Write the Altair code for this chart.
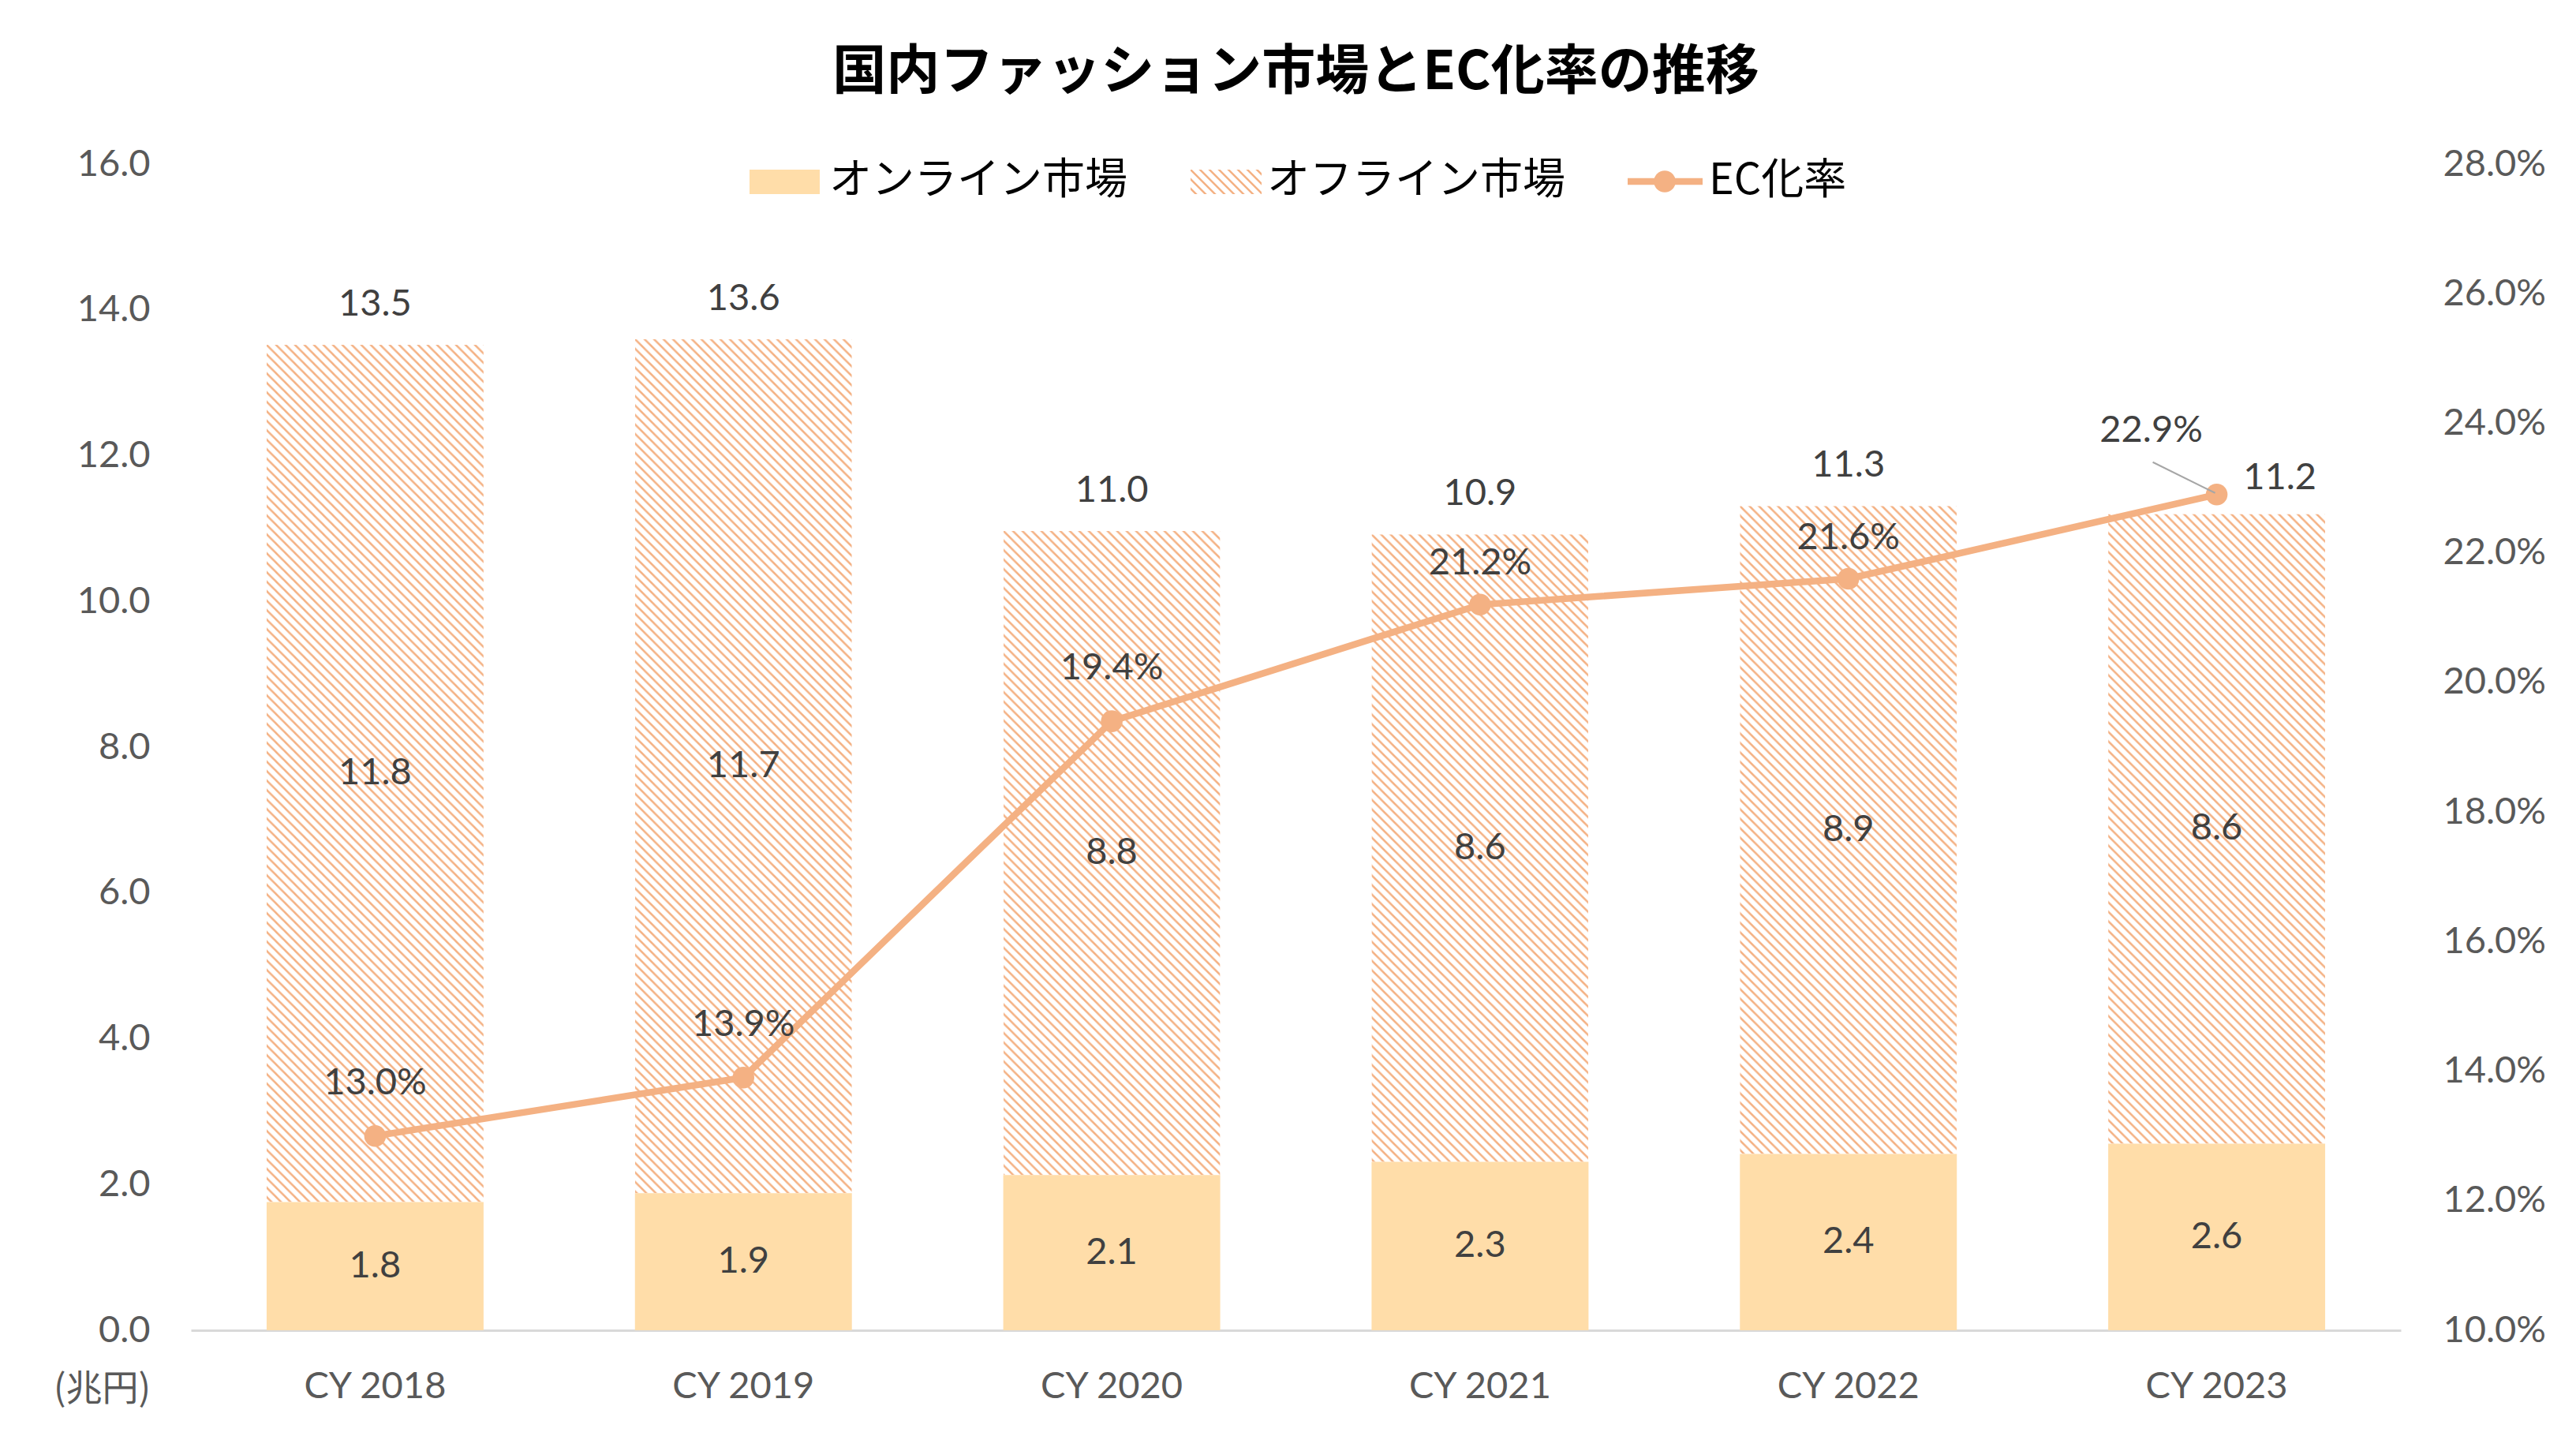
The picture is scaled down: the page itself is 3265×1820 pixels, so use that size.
import base64
import altair as alt
import pandas as pd

# ---------------- data ----------------
years = ["CY 2018", "CY 2019", "CY 2020", "CY 2021", "CY 2022", "CY 2023"]
online = [1.76, 1.88, 2.13, 2.31, 2.42, 2.56]        # オンライン市場 (兆円)
offline = [11.76, 11.72, 8.84, 8.61, 8.89, 8.64]     # オフライン市場 (兆円)
ec_rate = [13.0, 13.9, 19.4, 21.2, 21.6, 22.9]       # EC化率 (%)
left_ticks = [0, 2, 4, 6, 8, 10, 12, 14, 16]
right_ticks = [10, 12, 14, 16, 18, 20, 22, 24, 26, 28]
legend_labels = ["オンライン市場", "オフライン市場", "EC化率"]
title_text = "国内ファッション市場とEC化率の推移"
unit_label = "(兆円)"

df = pd.DataFrame({"year": years, "online": online, "offline": offline, "ec": ec_rate})

# ---------------- styles ----------------
W, H = 2801, 1478
FONT = "Lato, 'Noto Sans CJK JP', sans-serif"
JFONT = "'Noto Sans CJK JP', sans-serif"
ONLINE_C = "#FFDDA9"
ORANGE = "#F4B183"
AXIS_C = "#595959"
LABEL_C = "#404040"
FS = 47

hatch_svg = (
    "<svg xmlns='http://www.w3.org/2000/svg' width='100%' height='100%'>"
    "<defs><pattern id='h' width='12' height='12' patternUnits='userSpaceOnUse'>"
    "<path d='M-6,6 L6,18 M0,0 L12,12 M6,-6 L18,6' stroke='" + ORANGE + "' stroke-width='2.5'/>"
    "</pattern></defs><rect width='100%' height='100%' fill='url(#h)'/></svg>"
)
HATCH_URL = "data:image/svg+xml;base64," + base64.b64encode(hatch_svg.encode()).decode()

X = alt.X(
    "year:N",
    sort=years,
    scale=alt.Scale(paddingInner=0.411, paddingOuter=0.2055),
    axis=alt.Axis(
        title=None, labelAngle=0, labelFont=FONT, labelFontSize=FS, labelColor=AXIS_C,
        labelPadding=71, labelBaseline="middle", labelLimit=0, ticks=False, tickSize=0,
        domainColor="#D9D9D9", domainWidth=3, grid=False,
    ),
)

sc_left = alt.Scale(domain=[0, 16], nice=False, zero=True)
sc_right = alt.Scale(domain=[10, 28], nice=False, zero=False)

ax_left = alt.Axis(
    values=left_ticks, format=".1f", orient="left", grid=False, domain=False,
    ticks=False, tickSize=0, labelFont=FONT, labelFontSize=FS, labelColor=AXIS_C,
    labelPadding=52, title=unit_label, titleAngle=0, titleX=-113, titleY=1552,
    titleAlign="center", titleBaseline="middle", titleFont=JFONT, titleFontSize=46,
    titleFontWeight="normal", titleColor=AXIS_C,
)
ax_right = alt.Axis(
    values=right_ticks, orient="right", grid=False, domain=False, ticks=False,
    tickSize=0, labelFont=FONT, labelFontSize=FS, labelColor=AXIS_C, labelPadding=53,
    labelExpr="format(datum.value, '.1f') + '%'", title=None,
)

base = alt.Chart(df).transform_calculate(
    total="datum.online + datum.offline",
    on_mid="datum.online / 2",
    off_mid="datum.online + datum.offline / 2",
    on_lbl="format(datum.online, '.1f')",
    off_lbl="format(datum.offline, '.1f')",
    tot_lbl="format(datum.online + datum.offline, '.1f')",
    ec_lbl="format(datum.ec, '.1f') + '%'",
)

def YL(field, axis=None):
    return alt.Y(field, type="quantitative", scale=sc_left, axis=axis)

def YR(field, axis=None):
    return alt.Y(field, type="quantitative", scale=sc_right, axis=axis)

bars_online = base.mark_bar(color=ONLINE_C).encode(x=X, y=YL("online", ax_left))
bars_offline = base.mark_image(url=HATCH_URL, aspect=False).encode(
    x=X, y=YL("total"), y2="online:Q"
)

line = base.mark_line(color=ORANGE, strokeWidth=8.5).encode(x=X, y=YR("ec", ax_right))
points = base.mark_circle(color=ORANGE, size=760, opacity=1).encode(x=X, y=YR("ec"))

txt = dict(font=FONT, fontSize=FS, color=LABEL_C, baseline="middle", align="center")
lbl_on = base.mark_text(**txt).encode(x=X, y=YL("on_mid"), text="on_lbl:N")
lbl_off = base.mark_text(**txt).encode(x=X, y=YL("off_mid"), text="off_lbl:N")
lbl_tot = base.transform_filter(alt.datum.year != years[-1]).mark_text(dy=-51, **txt).encode(
    x=X, y=YL("total"), text="tot_lbl:N"
)
lbl_tot_last = base.transform_filter(alt.datum.year == years[-1]).mark_text(
    dx=80, dy=-45, **txt
).encode(x=X, y=YL("total"), text="tot_lbl:N")

lbl_ec_a = base.transform_filter(
    alt.FieldOneOfPredicate(field="year", oneOf=years[:3])
).mark_text(dy=-67, **txt).encode(x=X, y=YR("ec"), text="ec_lbl:N")
lbl_ec_b = base.transform_filter(
    alt.FieldOneOfPredicate(field="year", oneOf=years[3:5])
).mark_text(dy=-52, **txt).encode(x=X, y=YR("ec"), text="ec_lbl:N")
lbl_ec_c = base.transform_filter(alt.datum.year == years[-1]).mark_text(
    dx=-83, dy=-81, **txt
).encode(x=X, y=YR("ec"), text="ec_lbl:N")
leader = base.transform_filter(alt.datum.year == years[-1]).mark_rule(
    color="#A6A6A6", strokeWidth=2, xOffset=-81, yOffset=-41, x2Offset=-2, y2Offset=-2
).encode(x=X, y=YR("ec"), x2="year:N", y2="ec:Q")

# ---------------- legend (drawn inside the plot area, like the original) ----------------
def leg_df(i):
    return pd.DataFrame({"label": [legend_labels[i]]})

LY = 22
leg_sw1 = alt.Chart(leg_df(0)).mark_rect(color=ONLINE_C).encode(
    x=alt.value(708), x2=alt.value(797), y=alt.value(LY - 15), y2=alt.value(LY + 16)
)
leg_sw2 = alt.Chart(leg_df(1)).mark_image(url=HATCH_URL, aspect=False).encode(
    x=alt.value(1267), x2=alt.value(1357), y=alt.value(LY - 15), y2=alt.value(LY + 16)
)
leg_ln = alt.Chart(leg_df(2)).mark_rule(color=ORANGE, strokeWidth=8.5).encode(
    x=alt.value(1821), x2=alt.value(1916), y=alt.value(LY)
)
leg_pt = alt.Chart(leg_df(2)).mark_circle(color=ORANGE, size=760, opacity=1).encode(
    x=alt.value(1868), y=alt.value(LY)
)
ltxt = dict(font=JFONT, fontSize=54, color="#000000", baseline="middle", align="left")
leg_t1 = alt.Chart(leg_df(0)).mark_text(**ltxt).encode(x=alt.value(809), y=alt.value(LY), text="label:N")
leg_t2 = alt.Chart(leg_df(1)).mark_text(**ltxt).encode(x=alt.value(1364), y=alt.value(LY), text="label:N")
leg_t3 = alt.Chart(leg_df(2)).mark_text(**ltxt).encode(x=alt.value(1924), y=alt.value(LY), text="label:N")

chart = alt.layer(
    bars_online, bars_offline, line, points,
    lbl_on, lbl_off, lbl_tot, lbl_tot_last,
    lbl_ec_a, lbl_ec_b, lbl_ec_c, leader,
    leg_sw1, leg_sw2, leg_ln, leg_pt, leg_t1, leg_t2, leg_t3,
).resolve_scale(y="independent").properties(
    width=W,
    height=H,
    title=alt.TitleParams(
        text=title_text, font=JFONT, fontSize=68, fontWeight="bold", color="#000000",
        anchor="middle", offset=57,
    ),
    autosize=alt.AutoSizeParams(type="none"),
    padding={"left": 234, "top": 200, "right": 214, "bottom": 126},
    background="white",
).configure_view(stroke=None)

chart.save("out.html", embed_options={"renderer": "svg", "actions": False})
